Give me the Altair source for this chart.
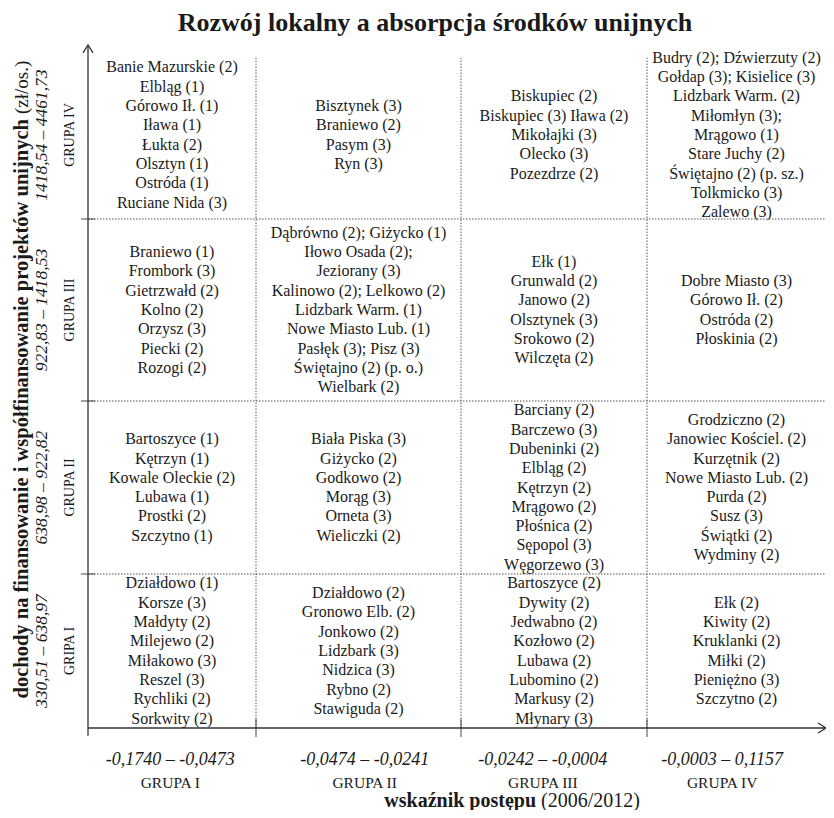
import altair as alt
import pandas as pd

FONT = "Liberation Serif"
INK = "#1a1a1a"

# ---------------- data ----------------
title_text = "Rozwój lokalny a absorpcja środków unijnych"
x_title_bold = "wskaźnik postępu"
x_title_plain = "(2006/2012)"
y_title_bold = "dochody na finansowanie i współfinansowanie projektów unijnych"
y_title_plain = "(zł/os.)"

x_ranges = ["-0,1740 – -0,0473", "-0,0474 – -0,0241", "-0,0242 – -0,0004", "-0,0003 – 0,1157"]
x_groups = ["GRUPA I", "GRUPA II", "GRUPA III", "GRUPA IV"]
y_ranges = ["330,51 – 638,97", "638,98 – 922,82", "922,83 – 1418,53", "1418,54 – 4461,73"]
y_groups = ["GRIPA I", "GRUPA II", "GRUPA III", "GRUPA IV"]

# rows = income group (y), columns = progress group (x)
row_I = [
    ["Działdowo (1)", "Korsze (3)", "Małdyty (2)", "Milejewo (2)", "Miłakowo (3)",
     "Reszel (3)", "Rychliki (2)", "Sorkwity (2)"],
    ["Działdowo (2)", "Gronowo Elb. (2)", "Jonkowo (2)", "Lidzbark (3)", "Nidzica (3)",
     "Rybno (2)", "Stawiguda (2)"],
    ["Bartoszyce (2)", "Dywity (2)", "Jedwabno (2)", "Kozłowo (2)", "Lubawa (2)",
     "Lubomino (2)", "Markusy (2)", "Młynary (3)"],
    ["Ełk (2)", "Kiwity (2)", "Kruklanki (2)", "Miłki (2)", "Pieniężno (3)", "Szczytno (2)"],
]
row_II = [
    ["Bartoszyce (1)", "Kętrzyn (1)", "Kowale Oleckie (2)", "Lubawa (1)", "Prostki (2)",
     "Szczytno (1)"],
    ["Biała Piska (3)", "Giżycko (2)", "Godkowo (2)", "Morąg (3)", "Orneta (3)", "Wieliczki (2)"],
    ["Barciany (2)", "Barczewo (3)", "Dubeninki (2)", "Elbląg (2)", "Kętrzyn (2)",
     "Mrągowo (2)", "Płośnica (2)", "Sępopol (3)", "Węgorzewo (3)"],
    ["Grodziczno (2)", "Janowiec Kościel. (2)", "Kurzętnik (2)", "Nowe Miasto Lub. (2)",
     "Purda (2)", "Susz (3)", "Świątki (2)", "Wydminy (2)"],
]
row_III = [
    ["Braniewo (1)", "Frombork (3)", "Gietrzwałd (2)", "Kolno (2)", "Orzysz (3)",
     "Piecki (2)", "Rozogi (2)"],
    ["Dąbrówno (2);  Giżycko (1)", "Iłowo Osada (2);", "Jeziorany (3)",
     "Kalinowo (2); Lelkowo (2)", "Lidzbark Warm. (1)", "Nowe Miasto Lub. (1)",
     "Pasłęk (3); Pisz (3)", "Świętajno (2) (p. o.)", "Wielbark (2)"],
    ["Ełk (1)", "Grunwald (2)", "Janowo (2)", "Olsztynek (3)", "Srokowo (2)", "Wilczęta (2)"],
    ["Dobre Miasto (3)", "Górowo Ił. (2)", "Ostróda (2)", "Płoskinia (2)"],
]
row_IV = [
    ["Banie Mazurskie (2)", "Elbląg (1)", "Górowo Ił. (1)", "Iława (1)", "Łukta (2)",
     "Olsztyn (1)", "Ostróda (1)", "Ruciane Nida (3)"],
    ["Bisztynek (3)", "Braniewo (2)", "Pasym (3)", "Ryn (3)"],
    ["Biskupiec (2)", "Biskupiec (3) Iława (2)", "Mikołajki (3)", "Olecko (3)", "Pozezdrze (2)"],
    ["Budry (2); Dźwierzuty (2)", "Gołdap (3); Kisielice (3)", "Lidzbark Warm. (2)",
     "Miłomłyn (3);", "Mrągowo (1)", "Stare Juchy (2)", "Świętajno (2) (p. sz.)",
     "Tolkmicko (3)", "Zalewo (3)"],
]

# ---------------- layout (group boundaries -> pixels) ----------------
X_RANGE = [0, 168, 373, 559, 738]
Y_RANGE = [683, 529, 356, 174, 6]
LINE_H = 19.3
AXIS_TOP = 4.036      # arrow tip of the vertical axis (group units)
GRID_TOP = 3.96       # upper end of the dotted column separators
x_label_pos = [0.49, 1.53, 2.44, 3.42]   # label centres along the x axis (group units)

XS = alt.Scale(domain=[0, 1, 2, 3, 4], range=X_RANGE, nice=False, zero=False)
YS = alt.Scale(domain=[0, 1, 2, 3, 4], range=Y_RANGE, nice=False, zero=False)
row_px = [Y_RANGE[i] - Y_RANGE[i + 1] for i in range(4)]

line_rows = []
for yi, row in enumerate([row_I, row_II, row_III, row_IV]):
    for xi, names in enumerate(row):
        n = len(names)
        for k, name in enumerate(names):
            shift = ((n - 1) / 2 - k) * LINE_H / row_px[yi]
            line_rows.append({"gx": xi + 0.5, "gy": yi + 0.5 + shift, "label": name})
df_cells = pd.DataFrame(line_rows)

df_xlab = pd.DataFrame({"gx": x_label_pos, "rng": x_ranges, "grp": x_groups})
df_ylab = pd.DataFrame({"gy": [i + 0.5 for i in range(4)], "rng": y_ranges, "grp": y_groups})
inner = [1, 2, 3]


def X(f):
    return alt.X(f, scale=XS, axis=None)


def Y(f):
    return alt.Y(f, scale=YS, axis=None)


hgrid = alt.Chart(pd.DataFrame({"b": inner, "s": [0] * 3, "e": [4] * 3})).mark_rule(
    color="#555", strokeWidth=1, strokeDash=[1.5, 1.5]
).encode(x=X("s:Q"), x2="e:Q", y=Y("b:Q"))

vgrid = alt.Chart(pd.DataFrame({"b": inner, "s": [0] * 3, "e": [GRID_TOP] * 3})).mark_rule(
    color="#555", strokeWidth=1, strokeDash=[1.5, 1.5]
).encode(x=X("b:Q"), y=Y("s:Q"), y2="e:Q")

axes = alt.Chart(pd.DataFrame({
    "x1": [0, 0], "x2": [0, 4], "y1": [-0.05, 0], "y2": [AXIS_TOP, 0]
})).mark_rule(color="#333", strokeWidth=1.3).encode(
    x=X("x1:Q"), x2="x2:Q", y=Y("y1:Q"), y2="y2:Q"
)

xticks = alt.Chart(pd.DataFrame({"b": inner, "z": [0] * 3})).mark_tick(
    orient="vertical", size=18, thickness=1.3, color="#333"
).encode(x=X("b:Q"), y=Y("z:Q"))

yticks = alt.Chart(pd.DataFrame({"b": inner, "z": [0] * 3})).mark_tick(
    orient="horizontal", size=14, thickness=1.3, color="#333"
).encode(x=X("z:Q"), y=Y("b:Q"))

arrow_x = alt.Chart(pd.DataFrame({"a": [4], "z": [0]})).mark_point(
    shape="M -1.6 -1 L 0 0 L -1.6 1", size=100, filled=False, color="#333", strokeWidth=1.3, opacity=1
).encode(x=X("a:Q"), y=Y("z:Q"))

arrow_y = alt.Chart(pd.DataFrame({"a": [AXIS_TOP], "z": [0]})).mark_point(
    shape="M -1 1.6 L 0 0 L 1 1.6", size=100, filled=False, color="#333", strokeWidth=1.3, opacity=1
).encode(x=X("z:Q"), y=Y("a:Q"))

cells = alt.Chart(df_cells).mark_text(
    font=FONT, fontSize=16, align="center", baseline="middle", color=INK
).encode(x=X("gx:Q"), y=Y("gy:Q"), text="label:N")

xrng = alt.Chart(df_xlab).mark_text(
    font=FONT, fontSize=18, fontStyle="italic", align="center", baseline="middle", color=INK
).encode(x=X("gx:Q"), y=alt.value(715), text="rng:N")

xgrp = alt.Chart(df_xlab).mark_text(
    font=FONT, fontSize=15.5, align="center", baseline="middle", color=INK
).encode(x=X("gx:Q"), y=alt.value(738), text="grp:N")

yrng = alt.Chart(df_ylab).mark_text(
    font=FONT, fontSize=17.5, fontStyle="italic", align="center", baseline="middle",
    angle=270, color=INK
).encode(y=Y("gy:Q"), x=alt.value(-46), text="rng:N")

ygrp = alt.Chart(df_ylab).mark_text(
    font=FONT, fontSize=14, align="center", baseline="middle", angle=270, color=INK
).encode(y=Y("gy:Q"), x=alt.value(-18), text="grp:N")

title = alt.Chart(pd.DataFrame({"t": [title_text]})).mark_text(
    font=FONT, fontSize=26, fontWeight="bold", align="center", baseline="middle", color=INK
).encode(x=alt.value(347), y=alt.value(-22), text="t:N")

xt_b = alt.Chart(pd.DataFrame({"t": [x_title_bold]})).mark_text(
    font=FONT, fontSize=20, fontWeight="bold", align="right", baseline="middle", color=INK
).encode(x=alt.value(448), y=alt.value(756), text="t:N")

xt_p = alt.Chart(pd.DataFrame({"t": [x_title_plain]})).mark_text(
    font=FONT, fontSize=20, align="left", baseline="middle", color=INK
).encode(x=alt.value(453), y=alt.value(756), text="t:N")

yt_b = alt.Chart(pd.DataFrame({"t": [y_title_bold]})).mark_text(
    font=FONT, fontSize=20.5, fontWeight="bold", align="right", baseline="middle",
    angle=270, color=INK
).encode(x=alt.value(-66), y=alt.value(74), text="t:N")

yt_p = alt.Chart(pd.DataFrame({"t": [y_title_plain]})).mark_text(
    font=FONT, fontSize=19, align="left", baseline="middle", angle=270, color=INK
).encode(x=alt.value(-66), y=alt.value(69), text="t:N")

chart = alt.layer(
    hgrid, vgrid, axes, xticks, yticks, arrow_x, arrow_y, cells,
    xrng, xgrp, yrng, ygrp, title, xt_b, xt_p, yt_b, yt_p
).properties(
    width=738, height=683,
    padding={"left": 80, "top": 37, "right": 0, "bottom": 82},
    autosize="none",
    background="white",
).configure_view(strokeWidth=0)

chart.save("out.html", embed_options={"renderer": "svg", "actions": False})
